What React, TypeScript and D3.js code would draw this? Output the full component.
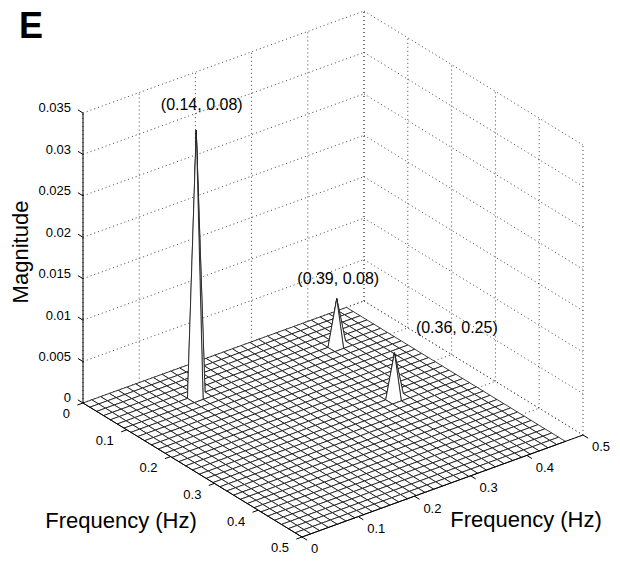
import React from 'react';
import * as d3 from 'd3';

// spectrum mesh sampled at 1/64 Hz steps
const BINS_PER_HZ = 64;
const fxBins = d3.range(0, 31);
const fyBins = d3.range(0, 33);

// spectral peaks
const peakFx = [0.14, 0.39, 0.36];
const peakFy = [0.08, 0.08, 0.25];
const peakMag = [0.032, 0.0055, 0.0053];
const peakText = ['(0.14, 0.08)', '(0.39, 0.08)', '(0.36, 0.25)'];

const zTicks = [0, 0.005, 0.01, 0.015, 0.02, 0.025, 0.03, 0.035];
const zTickText = ['0', '0.005', '0.01', '0.015', '0.02', '0.025', '0.03', '0.035'];
const fTicks = [0, 0.1, 0.2, 0.3, 0.4, 0.5];
const fTickText = ['0', '0.1', '0.2', '0.3', '0.4', '0.5'];

const W = 620;
const H = 565;
const FONT = "Arial, 'Liberation Sans', Helvetica, sans-serif";

// oblique view of the box
const ORIGIN = [83, 403];
const FX_VEC = [281, -102];
const FY_VEC = [219, 134];
const Z_LEN = 290;
const labelShift = [[5, -21], [1, -15], [62, -20]];

const u = d3.scaleLinear().domain([0, 0.5]).range([0, 1]);
const zPix = d3.scaleLinear().domain([0, 0.035]).range([0, Z_LEN]);

const proj = (fx: number, fy: number, z: number): [number, number] => [
  ORIGIN[0] + u(fx) * FX_VEC[0] + u(fy) * FY_VEC[0],
  ORIGIN[1] + u(fx) * FX_VEC[1] + u(fy) * FY_VEC[1] - zPix(z),
];

const unit = (v: number[], s = 1) => {
  const l = Math.hypot(v[0], v[1]);
  return [(s * v[0]) / l, (s * v[1]) / l];
};

const App = () => {
  const fx = fxBins.map(k => k / BINS_PER_HZ);
  const fy = fyBins.map(k => k / BINS_PER_HZ);
  const Z = fx.map(() => fy.map(() => 0));
  peakFx.forEach((p, k) => {
    const i = Math.round(p * BINS_PER_HZ);
    const j = Math.round(peakFy[k] * BINS_PER_HZ);
    Z[i][j] = peakMag[k];
  });

  const quads: { d: string; key: number }[] = [];
  for (let i = 0; i < fx.length - 1; i++) {
    for (let j = 0; j < fy.length - 1; j++) {
      const pts = [
        proj(fx[i], fy[j], Z[i][j]),
        proj(fx[i + 1], fy[j], Z[i + 1][j]),
        proj(fx[i + 1], fy[j + 1], Z[i + 1][j + 1]),
        proj(fx[i], fy[j + 1], Z[i][j + 1]),
      ];
      const c = proj((fx[i] + fx[i + 1]) / 2, (fy[j] + fy[j + 1]) / 2, 0);
      quads.push({ d: 'M' + pts.map(p => p.join(',')).join('L') + 'Z', key: c[1] });
    }
  }
  quads.sort((a, b) => a.key - b.key);

  const line = d3.line();
  const zTop = zTicks[zTicks.length - 1];

  const grid: [number, number][][] = [];
  zTicks.forEach(z => {
    grid.push([proj(0, 0, z), proj(0.5, 0, z)]);
    grid.push([proj(0.5, 0, z), proj(0.5, 0.5, z)]);
  });
  fTicks.forEach(f => {
    grid.push([proj(f, 0, 0), proj(f, 0, zTop)]);
    grid.push([proj(0.5, f, 0), proj(0.5, f, zTop)]);
    grid.push([proj(f, 0, 0), proj(f, 0.5, 0)]);
    grid.push([proj(0, f, 0), proj(0.5, f, 0)]);
  });

  const zDir = unit(FY_VEC, -6);
  const fyDir = unit(FX_VEC, -6);
  const fxDir = unit(FY_VEC, 6);

  return (
    <svg width={W} height={H} style={{ position: 'absolute', left: 0, top: 0 }} fontFamily={FONT}>
      <rect width={W} height={H} fill="#fff" />
      <text x={19} y={38} fontSize={36} fontWeight="bold">E</text>

      <g stroke="#444" strokeWidth={1} strokeDasharray="1,3" fill="none">
        {grid.map((g, k) => <path key={k} d={line(g) || ''} />)}
      </g>

      <g fill="#fff" stroke="#1a1a1a" strokeWidth={0.85} strokeLinejoin="round">
        {quads.map((q, k) => <path key={k} d={q.d} />)}
      </g>

      <g stroke="#000" strokeWidth={1} fill="none">
        <path d={line([proj(0, 0, 0), proj(0, 0, zTop)]) || ''} />
        <path d={line([proj(0, 0, 0), proj(0, 0.5, 0)]) || ''} />
        <path d={line([proj(0, 0.5, 0), proj(0.5, 0.5, 0)]) || ''} />
        {zTicks.map(z => {
          const p = proj(0, 0, z);
          return <path key={'z' + z} d={line([p, [p[0] + zDir[0], p[1] + zDir[1]]]) || ''} />;
        })}
        {fTicks.map(f => {
          const p = proj(0, f, 0);
          const q = proj(f, 0.5, 0);
          return (
            <g key={'f' + f}>
              <path d={line([p, [p[0] + fyDir[0], p[1] + fyDir[1]]]) || ''} />
              <path d={line([q, [q[0] + fxDir[0], q[1] + fxDir[1]]]) || ''} />
            </g>
          );
        })}
      </g>

      <g fontSize={13} fill="#000">
        {zTicks.map((z, k) => {
          const p = proj(0, 0, z);
          return <text key={'zt' + k} x={71} y={p[1] - 4} textAnchor="end" dominantBaseline="middle">{zTickText[k]}</text>;
        })}
        {fTicks.map((f, k) => {
          const p = proj(0, f, 0);
          return <text key={'fy' + k} x={p[0] - 13} y={p[1] + 12} textAnchor="end" dominantBaseline="middle">{fTickText[k]}</text>;
        })}
        {fTicks.map((f, k) => {
          const p = proj(f, 0.5, 0);
          return <text key={'fx' + k} x={p[0] + 9} y={p[1] + 13} textAnchor="start" dominantBaseline="middle">{fTickText[k]}</text>;
        })}
      </g>

      <g fontSize={16} fill="#000" textAnchor="middle">
        {peakText.map((t, k) => {
          const p = proj(peakFx[k], peakFy[k], peakMag[k]);
          return <text key={t} x={p[0] + labelShift[k][0]} y={p[1] + labelShift[k][1]}>{t}</text>;
        })}
      </g>

      <g fontSize={22} fill="#000" textAnchor="middle" dominantBaseline="middle">
        <text transform="translate(22,252) rotate(-90)">Magnitude</text>
        <text x={121} y={522}>Frequency (Hz)</text>
        <text x={526} y={521}>Frequency (Hz)</text>
      </g>
    </svg>
  );
};

export default App;
